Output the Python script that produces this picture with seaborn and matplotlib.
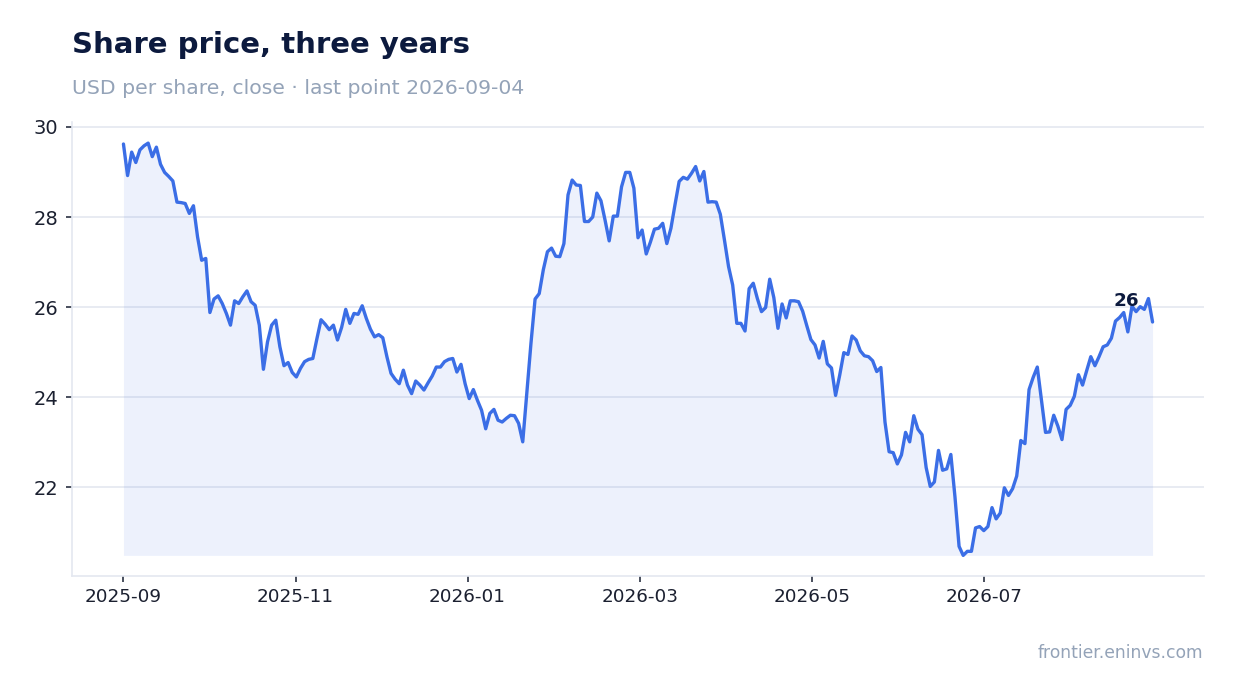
import matplotlib
matplotlib.use("Agg")
import matplotlib.pyplot as plt
import seaborn as sns
import numpy as np
import pandas as pd

# ---------------- data ----------------
price = [
    29.62, 28.92, 29.44, 29.21, 29.49, 29.58, 29.64, 29.34, 29.55, 29.17,
    28.99, 28.90, 28.80, 28.33, 28.32, 28.30, 28.08, 28.25, 27.56, 27.04,
    27.08, 25.88, 26.18, 26.25, 26.08, 25.86, 25.60, 26.14, 26.08, 26.23,
    26.36, 26.12, 26.04, 25.60, 24.62, 25.23, 25.60, 25.71, 25.12, 24.70,
    24.77, 24.55, 24.45, 24.64, 24.79, 24.84, 24.86, 25.30, 25.72, 25.62,
    25.50, 25.60, 25.27, 25.55, 25.95, 25.64, 25.86, 25.84, 26.03, 25.75,
    25.51, 25.34,
    25.39, 25.32, 24.90, 24.53, 24.40, 24.30, 24.60, 24.27, 24.08, 24.36,
    24.27, 24.16, 24.32, 24.47, 24.67, 24.67, 24.79, 24.84, 24.86, 24.56,
    24.73, 24.30, 23.97, 24.17, 23.93, 23.71, 23.30, 23.64, 23.73, 23.49,
    23.45, 23.53, 23.60, 23.59, 23.42, 23.01, 24.10, 25.20,
    26.18, 26.30, 26.83, 27.23, 27.31, 27.13, 27.12, 27.41, 28.49, 28.82,
    28.71, 28.70, 27.90, 27.90, 28.00, 28.53, 28.36, 27.93, 27.47, 28.02,
    28.02, 28.67, 28.99, 28.99, 28.64,
    27.54, 27.71, 27.18, 27.44, 27.73, 27.75, 27.86, 27.41, 27.75, 28.28,
    28.79, 28.88, 28.84, 28.97, 29.12, 28.80, 29.01, 28.33, 28.34, 28.33,
    28.06, 27.49, 26.90, 26.49, 25.64, 25.64, 25.47, 26.41, 26.53, 26.19,
    25.90, 25.99, 26.62, 26.21, 25.53, 26.07, 25.76, 26.14, 26.14, 26.12,
    25.91, 25.59, 25.28, 25.16, 24.87, 25.24, 24.74, 24.65, 24.04, 24.49,
    24.99, 24.95, 25.36, 25.27, 25.03, 24.92, 24.90, 24.81, 24.57, 24.66,
    23.45,
    22.79, 22.77, 22.52, 22.72, 23.22, 23.01, 23.59, 23.29, 23.17, 22.44,
    22.02, 22.12, 22.82, 22.38, 22.41, 22.73, 21.79, 20.69, 20.49, 20.58,
    20.58, 21.10, 21.13, 21.04, 21.13, 21.55, 21.30, 21.43, 21.99, 21.82,
    21.97, 22.25, 23.04, 22.97, 24.17, 24.44, 24.67, 23.95, 23.22, 23.23,
    23.60, 23.36, 23.06, 23.73, 23.82, 24.02, 24.50, 24.27, 24.59, 24.90,
    24.70, 24.90, 25.12, 25.16, 25.31, 25.69, 25.77, 25.88, 25.45, 26.02,
    25.90, 26.01, 25.95, 26.19, 25.67,
]
x_tick_labels = ["2025-09", "2025-11", "2026-01", "2026-03", "2026-05", "2026-07"]
y_tick_values = [22, 24, 26, 28, 30]

title = "Share price, three years"
subtitle = "USD per share, close \u00b7 last point 2026-09-04"
footer = "frontier.eninvs.com"

# ---------------- style ----------------
LINE = "#3b6ee6"
NAVY = "#0c1a3e"
MUTED = "#94a3b8"
GRID = "#e4e8f0"
TICKC = "#3a4150"
LABELC = "#1b2030"

sns.set_theme(style="white")
plt.rcParams["font.family"] = ["DejaVu Sans"]

W, H = 1234, 693
fig = plt.figure(figsize=(W / 100, H / 100), dpi=100)
fig.patch.set_facecolor("white")
ax = fig.add_axes([72 / W, 1 - 576 / H, (1204 - 72) / W, (576 - 122.5) / H])

n = len(price)
df = pd.DataFrame({"idx": np.arange(n), "price": price})

ax.fill_between(df["idx"], df["price"], df["price"].min(),
                color=LINE, alpha=0.09, linewidth=0, zorder=1)
sns.lineplot(data=df, x="idx", y="price", ax=ax, color=LINE,
             linewidth=2.4, zorder=3)

lo, hi = df["price"].min(), df["price"].max()
ax.set_xlim(-0.05 * (n - 1), 1.05 * (n - 1))
ax.set_ylim(lo - 0.05 * (hi - lo), hi + 0.05 * (hi - lo))

# x ticks: two-month steps, evenly spaced along the series
step = (n - 1) * 172.2 / 1029.8
ax.set_xticks(np.arange(len(x_tick_labels)) * step)
ax.set_xticklabels(x_tick_labels)
ax.set_yticks(y_tick_values)
ax.set_yticklabels([str(v) for v in y_tick_values])

ax.set_xlabel("")
ax.set_ylabel("")
ax.set_axisbelow(True)
ax.yaxis.grid(True, color=GRID, linewidth=1.2)
ax.xaxis.grid(False)

for s in ["top", "right"]:
    ax.spines[s].set_visible(False)
for s in ["left", "bottom"]:
    ax.spines[s].set_color(GRID)
    ax.spines[s].set_linewidth(1.2)

ax.tick_params(axis="x", bottom=True, length=4.3, width=1.3, color=TICKC,
               labelsize=13.2, labelcolor=LABELC, pad=4.7)
ax.tick_params(axis="y", left=True, length=4.3, width=1.3, color=TICKC,
               labelsize=14, labelcolor=LABELC, pad=5.4)

ax.annotate(f"{price[-1]:.0f}", xy=(n - 1, price[-1]), xytext=(-9.5, 11.5),
            textcoords="offset points", ha="right", va="baseline",
            fontsize=13.2, fontweight="bold", color=NAVY)

fig.text(72 / W, 1 - 53.3 / H, title, fontsize=21, fontweight="bold",
         color=NAVY, ha="left", va="baseline")
fig.text(72 / W, 1 - 94 / H, subtitle, fontsize=14.65, color=MUTED,
         ha="left", va="baseline")
fig.text(1203 / W, 1 - 658 / H, footer, fontsize=12.3, color=MUTED,
         ha="right", va="baseline")

fig.savefig("out.png", dpi=100, facecolor="white")
